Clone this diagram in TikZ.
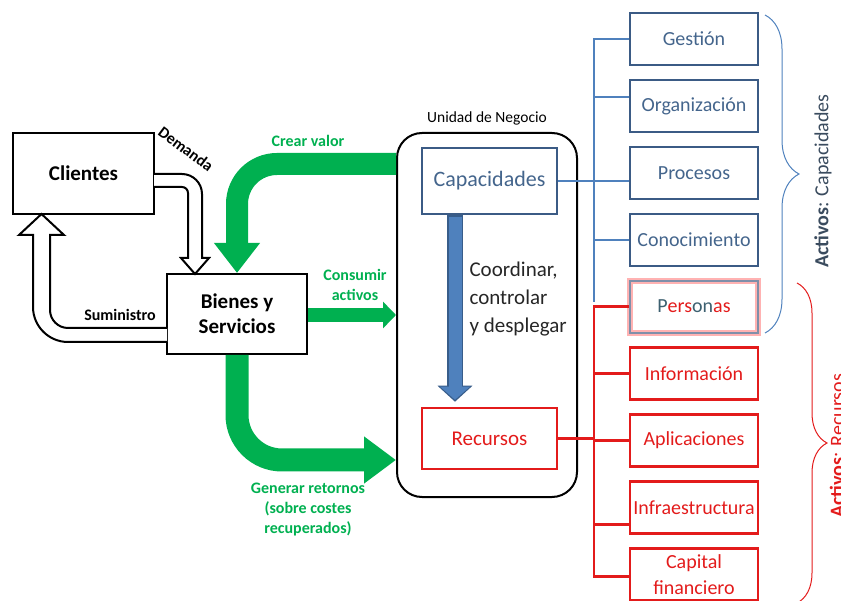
\documentclass[tikz,border=0pt]{standalone}
\usepackage{fontspec}
\setmainfont{Carlito}
\usetikzlibrary{arrows.meta,positioning,decorations.pathreplacing}
\definecolor{flowgreen}{HTML}{00B050}
\definecolor{capblue}{HTML}{3B5B85}
\definecolor{captext}{HTML}{44658C}
\definecolor{linkblue}{HTML}{4F81BD}
\definecolor{arrowedge}{HTML}{385D8A}
\definecolor{resred}{HTML}{E31B1B}
\definecolor{slate}{HTML}{3A4B5E}
\definecolor{perteal}{HTML}{3D6070}
\definecolor{peredge}{HTML}{7F8FA9}
\tikzstyle{mainbox} = [rectangle, draw=black, line width=2pt, minimum width=141pt, minimum height=81pt, align=center, font=\fontsize{21}{25}\selectfont\bfseries]
\tikzstyle{capbox} = [rectangle, draw=capblue, line width=2.5pt, minimum width=128pt, minimum height=52pt, inner sep=2pt, align=center, text=captext, font=\fontsize{20}{22}\selectfont]
\tikzstyle{resbox} = [capbox, draw=resred, text=resred]
\tikzstyle{flow} = [flowgreen, rounded corners=40pt]
\tikzstyle{hollow} = [draw=black, line width=2pt, fill=white]
\tikzstyle{greenlabel} = [text=flowgreen, align=center, font=\fontsize{16}{20}\selectfont\bfseries]
\tikzstyle{blacklabel} = [font=\fontsize{16}{20}\selectfont\bfseries]
\tikzstyle{blueline} = [linkblue, line width=2.5pt]
\tikzstyle{redline} = [resred, line width=2.5pt]
\begin{document}
\begin{tikzpicture}[x=1pt, y=-1pt, node distance=12.5pt]
\useasboundingbox (0,0) rectangle (841,601);
\clip (0,0) rectangle (841,601);

% left side
\node (clientes) [mainbox] at (83.5,173.5) {Clientes};
\node (bienes) [mainbox, minimum width=140pt, minimum height=80pt] at (237,314) {Bienes y\\Servicios};

% business unit
\node (unidad) [draw, line width=2pt, rounded corners=25pt, minimum width=180pt, minimum height=364pt] at (487,315) {};
\node (unidadlabel) [above=3pt of unidad.north, font=\fontsize{15.5}{18}\selectfont] {Unidad de Negocio};
\node (capac) [capbox, minimum width=135pt, minimum height=66pt, font=\fontsize{22}{26}\selectfont] at (489.5,181) {Capacidades};
\node (recursos) [resbox, minimum width=135pt, minimum height=61pt, font=\fontsize{21}{25}\selectfont] at (489.5,438.5) {Recursos};
\node (coordinar) [align=left, anchor=west, text=black!85, font=\fontsize{21}{28}\selectfont] at (466,299) {Coordinar,\\controlar\\y desplegar};

% assets
\node (gestion) [capbox] at (694,39) {Gestión};
\node (organiz) [capbox, below=of gestion] {Organización};
\node (procesos) [capbox, below=of organiz] {Procesos};
\node (conoc) [capbox, below=of procesos] {Conocimiento};
\node (personas) [capbox, draw=peredge, line width=1.8pt, text=perteal, preaction={draw=red!30, line width=6pt}, below=of conoc] {P\textcolor{resred}{ers}on\textcolor{resred}{as}};
\node (informacion) [resbox, below=of personas] {Información};
\node (aplic) [resbox, below=of informacion] {Aplicaciones};
\node (infra) [resbox, below=of aplic] {Infraestructura};
\node (capital) [resbox, font=\fontsize{20}{26}\selectfont, below=of infra] {Capital\\financiero};

% hollow arrows
\draw[hollow] (154,174) -- (182,174) .. controls (193,174) and (202,183) .. (202,194) -- (202,258) -- (209,258) -- (195,274) -- (181,258) -- (188,258) -- (188,193) .. controls (188,189.7) and (185.3,187) .. (182,187) -- (154,187);
\draw[hollow] (167,342) -- (68,342) .. controls (48.75,342) and (33,326.25) .. (33,307) -- (33,235) -- (19,235) -- (41.5,214) -- (64,235) -- (50,235) -- (50,310) .. controls (50,319.9) and (58.1,328) .. (68,328) -- (167,328);
\node (demanda) [blacklabel, rotate=-37] at (186,149) {Demanda};
\node (suministro) [blacklabel] at (120,315) {Suministro};

% green flows
\draw[flow, line width=22pt, -{Triangle[width=44pt,length=30pt]}] (unidad.west |- 0,164) -- (237,164) -- (237,273);
\draw[flow, line width=14pt, -{Triangle[width=26pt,length=13pt]}] (bienes.east |- 0,315) -- (unidad.west |- 0,315);
\draw[flow, rounded corners=45pt, line width=23pt, -{Triangle[width=45pt,length=32pt]}] (bienes.south) -- (237,460) -- (unidad.west |- 0,460);
\node (crear) [greenlabel] at (308,141) {Crear valor};
\node (consumir) [greenlabel] at (355,285) {Consumir\\activos};
\node (generar) [greenlabel] at (308,510) {Generar retornos\\(sobre costes\\recuperados)};

% coordinate arrow
\draw[arrowedge, line width=16pt, -{Triangle[width=34pt,length=16pt]}] ([xshift=-34.5pt]capac.south) -- ([xshift=-34.5pt, yshift=5pt]recursos.north);
\draw[linkblue, line width=13pt, -{Triangle[width=29pt,length=13pt]}] ([xshift=-34.5pt, yshift=-1.5pt]capac.south) -- ([xshift=-34.5pt, yshift=7pt]recursos.north);

% links
\coordinate (bus) at (594,0);
\draw[blueline] (capac.east) -- (capac.east -| bus);
\draw[blueline] (gestion.west) -| ([yshift=5pt]bus |- personas.west);
\draw[blueline] ([yshift=9pt]organiz.west) -- ([yshift=9pt]organiz.west -| bus);
\draw[blueline] ([yshift=-8pt]procesos.west) -- ([yshift=-8pt]procesos.west -| bus);
\draw[blueline] (conoc.west) -- (conoc.west -| bus);
\draw[redline] (personas.west) -| ([yshift=-2pt]bus |- capital.west) -- ([yshift=-2pt]capital.west);
\draw[redline] (informacion.west) -- (informacion.west -| bus);
\draw[redline] (aplic.west) -- (aplic.west -| bus);
\draw[redline] ([yshift=-17pt]infra.west) -- ([yshift=-17pt]infra.west -| bus);
\draw[redline] (recursos.east) -- (recursos.east -| bus);

% braces
\draw[decorate, decoration={brace, amplitude=34pt}, linkblue, line width=1pt] (765,15) -- (765,333);
\draw[decorate, decoration={brace, amplitude=30pt}, resred, line width=1pt] (797,283) -- (797,603);
\node (activoscap) [rotate=90, text=slate, font=\fontsize{20}{24}\selectfont] at (823,181) {\textbf{Activos}: Capacidades};
\node (activosrec) [rotate=90, text=resred, font=\fontsize{20}{24}\selectfont] at (837,446) {\textbf{Activos}: Recursos};
\end{tikzpicture}
\end{document}
